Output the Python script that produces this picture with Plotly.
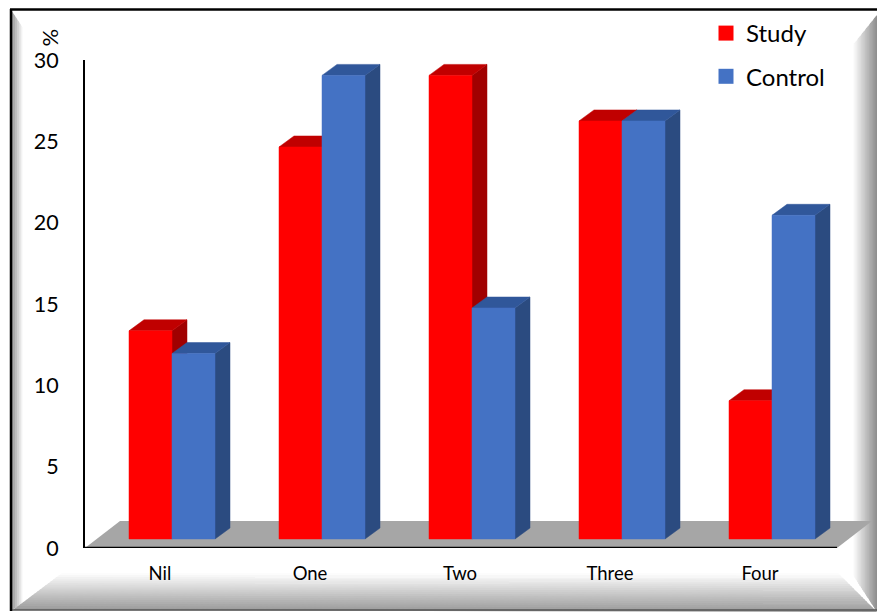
import plotly.graph_objects as go

# ---------------- data ----------------
categories = ["Nil", "One", "Two", "Three", "Four"]
study = [12.8, 24.1, 28.5, 25.7, 8.5]
control = [11.4, 28.5, 14.2, 25.7, 19.9]
series_names = ["Study", "Control"]
y_ticks = [0, 5, 10, 15, 20, 25, 30]

# ---------------- layout geometry ----------------
W, H = 877, 612
ML, MR, MT, MB = 85, 0, 60, 64
PW = W - ML - MR
PH = H - MT - MB
PX_PER_X = 150.0
X0 = -0.5
X1 = X0 + PW / PX_PER_X
Y0, Y1 = 0, 30
PX_PER_Y = PH / (Y1 - Y0)

BASE = 9 / PX_PER_Y          # bars stand slightly behind the front edge
BAR_W = 43 / PX_PER_X
BAR_OFF = -31 / PX_PER_X
DX = 15 / PX_PER_X           # 3-D depth offset
DY = 11 / PX_PER_Y
FDX = 35 / PX_PER_X          # floor depth
FDY = 27 / PX_PER_Y
FLOOR_R = X0 + (837 - ML) / PX_PER_X

RED, RED_TOP, RED_SIDE = "#FF0000", "#C00000", "#A00000"
BLUE, BLUE_TOP, BLUE_SIDE = "#4472C4", "#30579A", "#2B4B80"
FONT = "Lato"

fig = go.Figure()

# floor
fig.add_trace(go.Scatter(
    x=[X0, FLOOR_R, FLOOR_R + FDX, X0 + FDX, X0],
    y=[0, 0, FDY, FDY, 0],
    fill="toself", fillcolor="#A6A6A6", mode="lines",
    line=dict(width=0), hoverinfo="skip", showlegend=False))


def faces(values, left_off):
    fx, fy, tx, ty, sx, sy = [], [], [], [], [], []
    for i, v in enumerate(values):
        xl = i + left_off
        xr = xl + BAR_W
        b, t = BASE, BASE + v
        fx += [xl, xr, xr, xl, xl, None]
        fy += [b, b, t, t, b, None]
        tx += [xl, xr, xr + DX, xl + DX, xl, None]
        ty += [t, t, t + DY, t + DY, t, None]
        sx += [xr, xr + DX, xr + DX, xr, xr, None]
        sy += [b, b + DY, t + DY, t, b, None]
    return (fx, fy), (tx, ty), (sx, sy)


def poly(xy, color):
    return go.Scatter(x=xy[0], y=xy[1], fill="toself", fillcolor=color,
                      mode="lines", line=dict(width=0.5, color=color),
                      hoverinfo="skip", showlegend=False)


for vals, off, cols in [(study, BAR_OFF, (RED, RED_TOP, RED_SIDE)),
                        (control, BAR_OFF + BAR_W, (BLUE, BLUE_TOP, BLUE_SIDE))]:
    f, t, s = faces(vals, off)
    fig.add_trace(poly(s, cols[2]))
    fig.add_trace(poly(t, cols[1]))
    fig.add_trace(poly(f, cols[0]))

# front edge of floor (x axis line)
fig.add_trace(go.Scatter(x=[X0, FLOOR_R], y=[0, 0], mode="lines",
                         line=dict(color="black", width=2.5), cliponaxis=False,
                         hoverinfo="skip", showlegend=False))

# legend entries
for name, col in zip(series_names, [RED, BLUE]):
    fig.add_trace(go.Scatter(x=[None], y=[None], mode="markers", name=name,
                             legendgroup=name,
                             marker=dict(symbol="square", size=15, color=col)))


# ---------------- frame decoration ----------------
def px(xp, yp):
    return (xp - ML) / PW, (H - MB - yp) / PH


def lerp(a, b, t):
    return (a[0] + (b[0] - a[0]) * t, a[1] + (b[1] - a[1]) * t)


def hexmix(c1, c2, t):
    a = [int(c1[i:i + 2], 16) for i in (1, 3, 5)]
    b = [int(c2[i:i + 2], 16) for i in (1, 3, 5)]
    return "rgb(%d,%d,%d)" % tuple(round(a[k] + (b[k] - a[k]) * t) for k in range(3))


shapes = []


def bevel(i1, i2, o1, o2, cin, cout, n=18):
    for k in range(n):
        ta, tb = k / n, min(1.0, (k + 1) / n + 0.03)
        pts = [lerp(i1, o1, ta), lerp(i2, o2, ta), lerp(i2, o2, tb), lerp(i1, o1, tb)]
        pp = [px(*p) for p in pts]
        path = "M%f,%f L%f,%f L%f,%f L%f,%f Z" % tuple(c for p in pp for c in p)
        col = hexmix(cin, cout, (k + 0.5) / n)
        shapes.append(dict(type="path", xref="paper", yref="paper", path=path,
                           fillcolor=col, line=dict(width=0), layer="below"))


# left bevel
bevel((23, 28), (23, 605), (11, 10), (11, 610), "#FFFFFF", "#8C8C8C")
# right bevel
bevel((853, 45), (853, 575), (877, 15), (877, 612), "#FFFFFF", "#8C8C8C")
# bottom bevel
bevel((62, 573), (838, 573), (13, 610), (877, 612), "#FFFFFF", "#9A9A9A")

# black border lines (top and left)
for (xa, ya, xb, yb) in [(10, 9.5, 877, 9.5), (11, 9, 11, 611)]:
    a = px(xa, ya)
    b = px(xb, yb)
    shapes.append(dict(type="line", xref="paper", yref="paper",
                       x0=a[0], y0=a[1], x1=b[0], y1=b[1],
                       line=dict(color="black", width=2.5), layer="above"))
a = px(11, 610)
b = px(877, 610)
shapes.append(dict(type="line", xref="paper", yref="paper",
                   x0=a[0], y0=a[1], x1=b[0], y1=b[1],
                   line=dict(color="#555555", width=1.5), layer="below"))

pct = px(34, 27)
lg = px(706, 11)

fig.update_layout(
    width=W, height=H,
    margin=dict(l=ML, r=MR, t=MT, b=MB),
    paper_bgcolor="white", plot_bgcolor="rgba(0,0,0,0)",
    font=dict(family=FONT, color="black"),
    shapes=shapes,
    showlegend=True,
    legend=dict(x=lg[0], y=lg[1], xanchor="left", yanchor="top",
                font=dict(size=24, family=FONT, color="black"),
                bgcolor="rgba(0,0,0,0)", tracegroupgap=9,
                traceorder="grouped"),
    annotations=[dict(x=pct[0], y=pct[1], xref="paper", yref="paper",
                      text="%", showarrow=False, textangle=-90,
                      font=dict(size=22, family=FONT, color="black"))],
    xaxis=dict(range=[X0, X1], tickmode="array",
               tickvals=list(range(len(categories))), ticktext=categories,
               showgrid=False, zeroline=False, showline=False, ticks="",
               tickfont=dict(size=18.5, family=FONT), ticklabelstandoff=12,
               fixedrange=True),
    yaxis=dict(range=[Y0, Y1], tickmode="array", tickvals=y_ticks,
               showgrid=False, zeroline=False, showline=True,
               linecolor="black", linewidth=2, ticks="",
               tickfont=dict(size=21.5, family=FONT), ticklabelstandoff=20,
               fixedrange=True),
)

fig.write_html("out.html", config={"displayModeBar": False},
               post_script="document.body.style.margin='0px';")
